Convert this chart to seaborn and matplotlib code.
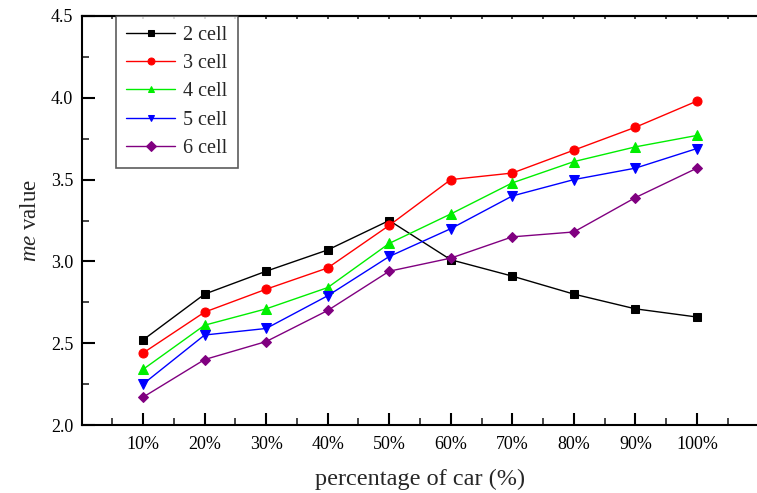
import matplotlib
matplotlib.use("Agg")
import matplotlib.pyplot as plt
from matplotlib.ticker import MultipleLocator, FixedLocator, FormatStrFormatter
import seaborn as sns
import pandas as pd

# percentage of cars on the road
percent_labels = ["10%", "20%", "30%", "40%", "50%", "60%", "70%", "80%", "90%", "100%"]

# me value for each cell configuration
cell_2 = [2.52, 2.80, 2.94, 3.07, 3.25, 3.01, 2.91, 2.80, 2.71, 2.66]
cell_3 = [2.44, 2.69, 2.83, 2.96, 3.22, 3.50, 3.54, 3.68, 3.82, 3.98]
cell_4 = [2.34, 2.61, 2.71, 2.84, 3.11, 3.29, 3.48, 3.61, 3.70, 3.77]
cell_5 = [2.25, 2.55, 2.59, 2.79, 3.03, 3.20, 3.40, 3.50, 3.57, 3.69]
cell_6 = [2.17, 2.40, 2.51, 2.70, 2.94, 3.02, 3.15, 3.18, 3.39, 3.57]

series_names = ["2 cell", "3 cell", "4 cell", "5 cell", "6 cell"]
series_values = [cell_2, cell_3, cell_4, cell_5, cell_6]

rows = []
for name, vals in zip(series_names, series_values):
    for i, v in enumerate(vals):
        rows.append({"pos": i + 1, "me": v, "series": name})
df = pd.DataFrame(rows)

sns.set_theme(style="white")
plt.rcParams["font.family"] = ["Liberation Serif", "DejaVu Serif"]
plt.rcParams["mathtext.fontset"] = "custom"
plt.rcParams["mathtext.rm"] = "Liberation Serif"
plt.rcParams["mathtext.it"] = "Liberation Serif:italic"

palette = {"2 cell": "#000000", "3 cell": "#ff0000", "4 cell": "#00ee00",
           "5 cell": "#0000ff", "6 cell": "#800080"}
markers = {"2 cell": "s", "3 cell": "o", "4 cell": "^", "5 cell": "v", "6 cell": "D"}
sizes = {"2 cell": 6, "3 cell": 6.5, "4 cell": 7, "5 cell": 7, "6 cell": 5}

W, H = 757, 493
fig = plt.figure(figsize=(W / 100, H / 100), dpi=100)
ax = fig.add_axes([81.5 / W, (H - 425) / H, 677 / W, 409 / H])

for name in series_names:
    sub = df[df["series"] == name]
    sns.lineplot(data=sub, x="pos", y="me", ax=ax, color=palette[name],
                 marker=markers[name], markersize=sizes[name],
                 markeredgecolor=palette[name], linewidth=1.0, label=name)

ax.set_xlim(0, 11)
ax.set_ylim(2.0, 4.5)
ax.xaxis.set_major_locator(FixedLocator(range(1, 11)))
ax.set_xticklabels(percent_labels)
ax.xaxis.set_minor_locator(MultipleLocator(0.5))
ax.yaxis.set_major_locator(MultipleLocator(0.5))
ax.yaxis.set_minor_locator(MultipleLocator(0.25))
ax.yaxis.set_major_formatter(FormatStrFormatter("%.1f"))

ax.tick_params(axis="both", which="major", direction="in", length=9, width=1.5,
               labelsize=13, colors="black")
ax.tick_params(axis="both", which="minor", direction="in", length=5, width=1.2)
ax.tick_params(axis="x", which="both", bottom=True, top=False)
ax.tick_params(axis="y", which="both", left=True, right=False)
ax.tick_params(axis="y", which="major", pad=6)
ax.tick_params(axis="x", which="major", pad=8)

# small inward ticks along the top edge
top = ax.secondary_xaxis("top")
top.xaxis.set_major_locator(FixedLocator(range(1, 11)))
top.xaxis.set_minor_locator(MultipleLocator(0.5))
top.tick_params(which="both", direction="in", length=2, width=1.2, labeltop=False)
top.spines["top"].set_linewidth(1.5)
top.spines["top"].set_color("black")

for side in ["left", "bottom", "top"]:
    ax.spines[side].set_visible(True)
    ax.spines[side].set_color("black")
    ax.spines[side].set_linewidth(1.5)
ax.spines["right"].set_visible(False)

ax.set_xlabel("percentage of car (%)", fontsize=17.5, labelpad=11)
ax.set_ylabel(r"$\mathit{me}$ value", fontsize=16.5, labelpad=7)

leg = ax.legend(loc="upper left", bbox_to_anchor=(34.5 / 677, 1.0), fontsize=14.5,
                frameon=True, fancybox=False, handlelength=2.45, handletextpad=0.4,
                labelspacing=0.45, borderpad=0.5, borderaxespad=0)
leg.get_frame().set_edgecolor("#333333")
leg.get_frame().set_linewidth(1.2)
for line in leg.get_lines():
    line.set_linewidth(1.0)
    line.set_markersize(5)

fig.savefig("out.png", dpi=100)
